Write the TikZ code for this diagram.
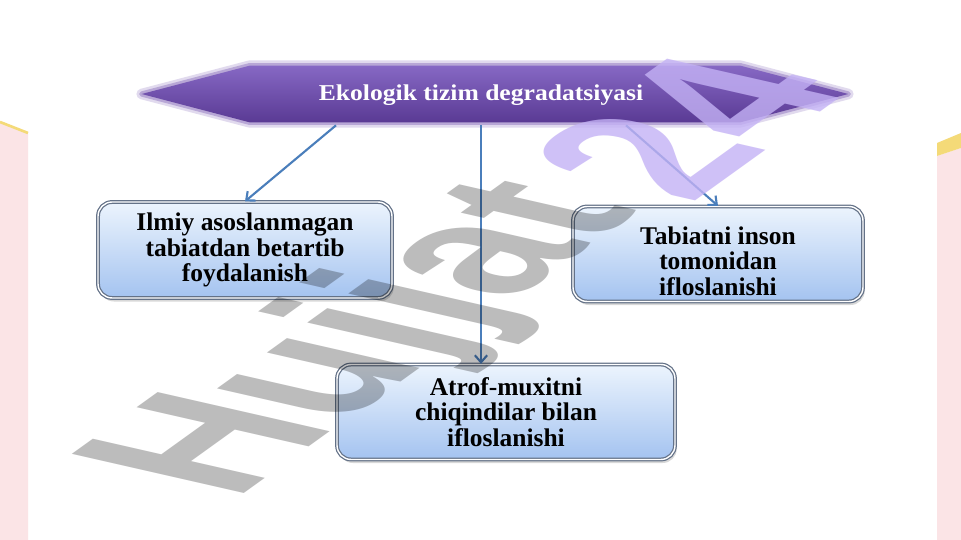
\documentclass[tikz,border=0pt]{standalone}
\usepackage{fontspec}
\setmainfont{Liberation Serif}
\newfontfamily\titlefont{Liberation Serif}[FakeStretch=1.13]
\newfontfamily\markfont{Liberation Sans}
\usetikzlibrary{arrows.meta,positioning,shadows}

\definecolor{bannerTop}{RGB}{134,104,196}
\definecolor{bannerMid}{RGB}{108,74,172}
\definecolor{bannerBot}{RGB}{90,58,148}
\definecolor{boxTop}{RGB}{236,244,253}
\definecolor{boxBot}{RGB}{164,195,240}
\definecolor{boxLine}{RGB}{100,114,136}
\definecolor{arrowBlue}{RGB}{74,126,187}
\definecolor{sidePink}{RGB}{251,228,230}
\definecolor{sideGold}{RGB}{244,218,120}
\definecolor{markGrey}{RGB}{188,188,188}
\definecolor{markLilac}{RGB}{196,178,245}

\begin{document}
\begin{tikzpicture}[x=0.02cm,y=-0.02cm,
    every node/.style={inner sep=0pt},
    bannerbody/.style={top color=bannerTop, middle color=bannerMid, bottom color=bannerBot,
      preaction={draw=bannerMid, line width=6pt, opacity=0.2, line join=round},
      preaction={draw=bannerMid, line width=3pt, opacity=0.35, line join=round}},
    titletext/.style={text=white, minimum height=1.2cm,
      font=\titlefont\bfseries\fontsize{12.9}{14}\selectfont},
    box/.style={draw=boxLine, double=white, double distance=0.8pt, line width=0.7pt,
      rounded corners=8pt, top color=boxTop, bottom color=boxBot,
      drop shadow={shadow xshift=1pt, shadow yshift=-2pt, opacity=0.3},
      align=center, font=\bfseries\fontsize{14.5}{14.5}\selectfont},
    link/.style={draw=arrowBlue, line width=1.2pt, -{Straight Barb[length=4pt,width=7pt]}},
    wmark/.style={transform shape, anchor=base west,
      font=\markfont\bfseries\fontsize{10}{10}\selectfont}]
  \useasboundingbox (0,0) rectangle (961,540);
  \fill[white] (0,0) rectangle (961,540);

  % side strips
  \fill[sidePink] (0,122) -- (28,133) -- (28,540) -- (0,540) -- cycle;
  \draw[sideGold, line width=1.5pt] (0,122) -- (28,133);
  \fill[sidePink] (937,156) -- (961,148) -- (961,540) -- (937,540) -- cycle;
  \fill[sideGold] (937,143) -- (961,133) -- (961,148) -- (937,156) -- cycle;

  % banner
  \node (banner) [minimum width=9.8cm, minimum height=1.12cm] at (495,94) {};
  \path[bannerbody] (banner.north west) -- (banner.north east)
    -- ([shift={(108,0)}]banner.east) -- (banner.south east)
    -- (banner.south west) -- ([shift={(-108,0)}]banner.west) -- cycle;
  \node (title) [titletext] at (481,95) {Ekologik tizim degradatsiyasi};

  % boxes
  \node (leftbox) [box, minimum width=5.88cm, minimum height=1.92cm] at (245,250)
    {Ilmiy asoslanmagan\\tabiatdan betartib\\foydalanish};
  \node (rightbox) [box, minimum width=5.8cm, minimum height=1.9cm] at (718,254)
    {\rule{0pt}{18pt}Tabiatni inson\\tomonidan\\ifloslanishi};
  \node (bottombox) [box, minimum width=6.76cm, minimum height=1.9cm] at (506,412)
    {Atrof-muxitni\\chiqindilar bilan\\ifloslanishi};

  % links
  \draw[link] ([shift={(-145,0)}]title.south) -- (leftbox.north);
  \draw[link] (title.south) -- (title.south |- bottombox.north);
  \draw[link] ([shift={(145,0)}]title.south) -- (rightbox.north);

  % watermark
  \begin{scope}[cm={8.31,5.98,-14.23,3.24,(232,503)}]
    \begin{scope}[blend mode=multiply]
      \node (wma) [wmark, text=markGrey] at (0,0) {Hujjat};
    \end{scope}
    \node (wmb) [wmark, text=markLilac, opacity=0.8, xshift=0.75pt, yshift=-1.35pt]
      at (wma.base east) {24};
  \end{scope}
\end{tikzpicture}
\end{document}
